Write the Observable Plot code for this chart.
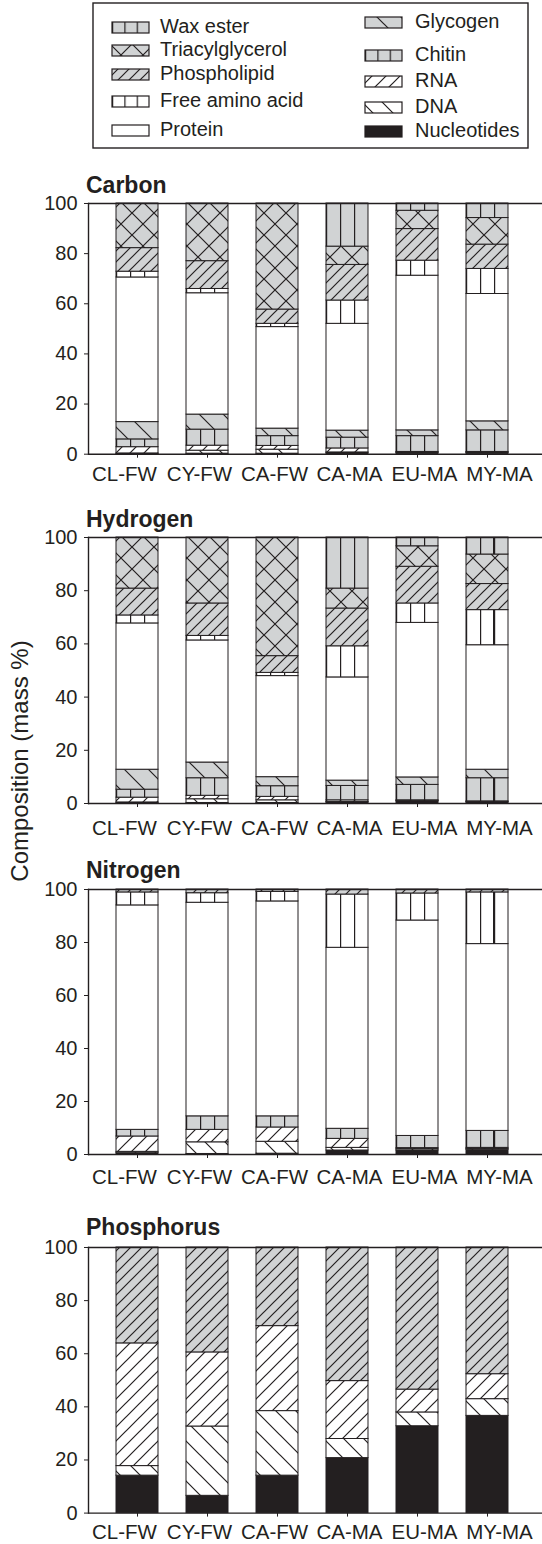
<!DOCTYPE html>
<html><head><meta charset="utf-8">
<script src="https://cdn.jsdelivr.net/npm/d3@7"></script>
<script src="https://cdn.jsdelivr.net/npm/@observablehq/plot@0.6"></script>
<style>
body{margin:0;background:#fff;}
#root{position:relative;width:542px;height:1544px;overflow:hidden;font-family:"Liberation Sans",Arial,sans-serif;color:#231f20;background:#fff;}
#root svg{position:absolute;left:0;}
</style></head><body><div id="root"></div>
<script>
// ---- data ----
const sites = ["CL-FW","CY-FW","CA-FW","CA-MA","EU-MA","MY-MA"];
// stacking order, bottom to top
const components = ["Nucleotides","DNA","RNA","Chitin","Glycogen","Protein","Free amino acid","Phospholipid","Triacylglycerol","Wax ester"];
const legendLeft = ["Wax ester","Triacylglycerol","Phospholipid","Free amino acid","Protein"];
const legendRight = ["Glycogen","Chitin","RNA","DNA","Nucleotides"];
const yTicks = [0,20,40,60,80,100];
const panelTitles = ["Carbon","Hydrogen","Nitrogen","Phosphorus"];
const yLabel = "Composition (mass %)";
// mass % per site, in the component order above
const carbon = [
  [0.1,0.2,2.5,3.1,6.9,57.7,2.3,9.4,17.8,0],
  [0.2,1.2,2.0,6.4,6.0,48.4,1.7,11.1,23.0,0],
  [0.2,1.6,1.5,3.9,3.0,40.5,1.3,5.7,42.3,0],
  [0.4,0.3,1.6,4.3,2.8,42.6,9.3,14.2,7.3,17.2],
  [0.5,0.2,0.2,6.3,2.3,61.7,6.0,12.6,7.3,2.9],
  [0.5,0.2,0.2,8.6,3.6,50.8,10.0,9.7,10.6,5.8]
];
const hydrogen = [
  [0.1,0.3,1.8,3.0,7.5,55.0,3.0,10.1,19.2,0],
  [0.2,1.4,1.3,6.6,5.9,45.9,1.7,12.2,24.8,0],
  [0.2,1.0,1.3,4.0,3.4,38.0,1.2,6.3,44.6,0],
  [0.4,0.2,0.6,5.4,2.0,38.8,11.7,14.2,7.5,19.2],
  [0.8,0.2,0.2,5.8,2.8,58.1,7.3,13.8,7.7,3.3],
  [0.4,0.2,0.2,8.7,3.2,46.8,13.2,9.8,11.1,6.4]
];
const nitrogen = [
  [0.5,0.5,5.8,2.5,0,84.7,4.9,1.1,0,0],
  [0.2,4.4,4.7,5.1,0,80.6,3.6,1.4,0,0],
  [0.3,4.5,5.4,4.2,0,81.1,3.6,0.9,0,0],
  [1.5,1.0,3.4,3.8,0,68.3,20.1,1.9,0,0],
  [1.5,0.5,0.4,4.6,0,81.3,10.2,1.5,0,0],
  [1.8,0.3,0.4,6.4,0,70.5,19.5,1.1,0,0]
];
const phosphorus = [
  [14.1,3.6,46.2,0,0,0,0,36.1,0,0],
  [6.5,26.1,27.9,0,0,0,0,39.5,0,0],
  [14.1,24.3,32.0,0,0,0,0,29.6,0,0],
  [20.7,7.2,21.8,0,0,0,0,50.3,0,0],
  [32.7,5.2,8.6,0,0,0,0,53.5,0,0],
  [36.6,6.3,9.4,0,0,0,0,47.7,0,0]
];

// ---- styles ----
const INK = "#231f20", GRAY = "#d1d3d4";
const FONT = "Liberation Sans, Arial, sans-serif";
const fills = {
  "Nucleotides": INK, "DNA": "url(#p-dna)", "RNA": "url(#p-rna)", "Chitin": "url(#p-vert-gray)",
  "Glycogen": "url(#p-gly)", "Protein": "#ffffff", "Free amino acid": "url(#p-vert-white)",
  "Phospholipid": "url(#p-pl)", "Triacylglycerol": "url(#p-tag)", "Wax ester": "url(#p-vert-gray)"
};

// ---- layout (page pixels) ----
const panels = [
  {data: carbon, y100: 203.3, y0: 454.0, titleY: 192.7, labelY: 480.7},
  {data: hydrogen, y100: 537.3, y0: 803.3, titleY: 526.7, labelY: 835.0},
  {data: nitrogen, y100: 889.3, y0: 1154.3, titleY: 878.3, labelY: 1183.3},
  {data: phosphorus, y100: 1246.7, y0: 1512.3, titleY: 1235.0, labelY: 1538.3}
];
const root = document.getElementById("root");
const MT = 12, MB = 10;

panels.forEach(p => {
  const rows = [];
  sites.forEach((s, i) => components.forEach((c, j) => {
    const v = p.data[i][j];
    if (v > 0) rows.push({site: s, comp: c, value: v});
  }));
  const plotH = p.y0 - p.y100;
  const chart = Plot.plot({
    width: 542, height: MT + plotH + MB,
    marginTop: MT, marginBottom: MB, marginLeft: 88, marginRight: 0,
    style: {fontFamily: FONT, fontSize: "20px", color: INK, background: "transparent", overflow: "visible"},
    x: {domain: sites, range: [99.4, 524.6], paddingInner: 0.394, paddingOuter: 0.197, align: 0.5,
        tickSize: 4, tickFormat: () => "", label: null},
    y: {domain: [0, 100], ticks: yTicks, tickSize: 4, tickPadding: 7, label: null},
    color: {type: "identity"},
    marks: [
      Plot.barY(rows, Plot.stackY({x: "site", y: "value", z: "comp", order: components,
        fill: d => fills[d.comp], stroke: INK, strokeWidth: 1})),
      Plot.ruleY([0, 100], {stroke: INK, strokeWidth: 1.4}),
      Plot.frame({anchor: "left", stroke: INK, strokeWidth: 1.4})
    ]
  });
  chart.style.top = (p.y100 - MT) + "px";
  root.appendChild(chart);

  const labels = Plot.plot({
    width: 542, height: 30, margin: 0,
    style: {fontFamily: FONT, color: INK, background: "transparent", overflow: "visible"},
    x: {type: "point", domain: sites, range: [122.6, 501.1], padding: 0, axis: null},
    marks: [Plot.text(sites, {x: d => d, text: d => d, frameAnchor: "middle", fontSize: 20.5, fill: INK})]
  });
  labels.style.top = (p.labelY - 15 - 0.32 * 20.5) + "px";
  root.appendChild(labels);
});

// ---- overlay: pattern defs, legend, titles, y label ----
const ov = d3.select(root).append("svg")
  .attr("width", 542).attr("height", 1544)
  .style("top", "0px").style("pointer-events", "none")
  .style("font-family", FONT);
const defs = ov.append("defs");
function vertPattern(id, bg) {
  const pt = defs.append("pattern").attr("id", id).attr("patternUnits", "objectBoundingBox")
    .attr("x", 0).attr("y", 0).attr("width", 1/3).attr("height", 1);
  pt.append("rect").attr("x", -5).attr("y", -5).attr("width", 100).attr("height", 3000).attr("fill", bg);
  pt.append("line").attr("x1", 0.6).attr("x2", 0.6).attr("y1", -5).attr("y2", 3000)
    .attr("stroke", INK).attr("stroke-width", 1.2);
}
function diagPattern(id, bg, s, fwd, back) {
  const pt = defs.append("pattern").attr("id", id).attr("patternUnits", "userSpaceOnUse")
    .attr("width", s).attr("height", s);
  pt.append("rect").attr("width", s).attr("height", s).attr("fill", bg);
  let d = "";
  if (fwd) d += `M-2,2 L2,-2 M0,${s} L${s},0 M${s-2},${s+2} L${s+2},${s-2} `;
  if (back) d += `M-2,${s-2} L2,${s+2} M0,0 L${s},${s} M${s-2},-2 L${s+2},2`;
  pt.append("path").attr("d", d).attr("stroke", INK).attr("stroke-width", 1.2).attr("fill", "none");
}
vertPattern("p-vert-gray", GRAY);
vertPattern("p-vert-white", "#ffffff");
diagPattern("p-tag", GRAY, 22, true, true);
diagPattern("p-pl", GRAY, 11, true, false);
diagPattern("p-gly", GRAY, 24, false, true);
diagPattern("p-rna", "#ffffff", 14, true, false);
diagPattern("p-dna", "#ffffff", 20, false, true);

// legend
ov.append("rect").attr("x", 93).attr("y", 3).attr("width", 435).attr("height", 145)
  .attr("fill", "none").attr("stroke", INK).attr("stroke-width", 1.4);
const leftBase = [33, 56, 80, 107, 136];
const rightBase = [28, 61, 87, 113, 137];
function legendItem(name, sx, tx, base) {
  ov.append("rect").attr("x", sx).attr("y", base - 11).attr("width", 37).attr("height", 11)
    .attr("fill", fills[name]).attr("stroke", INK).attr("stroke-width", 1.2);
  ov.append("text").attr("x", tx).attr("y", base).attr("font-size", 20).attr("fill", INK).text(name);
}
legendLeft.forEach((n, i) => legendItem(n, 112, 160, leftBase[i]));
legendRight.forEach((n, i) => legendItem(n, 365, 415, rightBase[i]));

// titles
panels.forEach((p, i) => {
  ov.append("text").attr("x", 86).attr("y", p.titleY).attr("font-size", 23)
    .attr("font-weight", "bold").attr("fill", INK).text(panelTitles[i]);
});
// y label
ov.append("text").attr("transform", "translate(28,761) rotate(-90)")
  .attr("text-anchor", "middle").attr("font-size", 24).attr("fill", INK).text(yLabel);
</script></body></html>
